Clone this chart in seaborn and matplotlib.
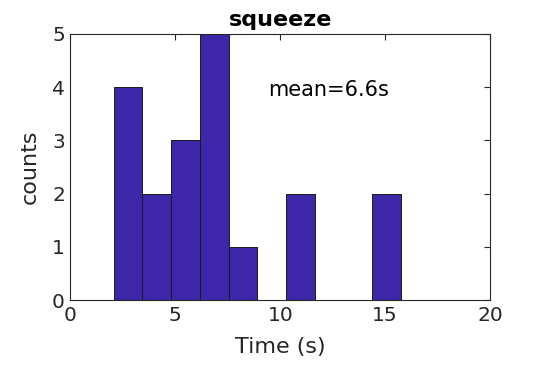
import numpy as np
import pandas as pd
import matplotlib
matplotlib.use("Agg")
import matplotlib.pyplot as plt
import seaborn as sns

# Histogram
bin_edges = [2.06, 3.43, 4.80, 6.17, 7.54, 8.91, 10.28, 11.65, 13.02, 14.39, 15.76]
counts = [4, 2, 3, 5, 1, 0, 2, 0, 0, 2]
mean_time = 6.6
title = "squeeze"
x_ticks = [0, 5, 10, 15, 20]
y_ticks = [0, 1, 2, 3, 4, 5]

centers = [(a + b) / 2 for a, b in zip(bin_edges[:-1], bin_edges[1:])]
df = pd.DataFrame({"time": centers, "count": counts})

sns.set_style("white")
plt.rcParams["font.family"] = ["DejaVu Sans"]

fig = plt.figure(figsize=(5.42, 3.65), dpi=100)
ax = fig.add_axes([0.130, 0.178, 0.774, 0.729])

sns.histplot(
    data=df,
    x="time",
    weights="count",
    bins=bin_edges,
    color="#3e26a8",
    edgecolor="#1a1a1a",
    linewidth=0.7,
    alpha=1,
    ax=ax,
)

ax.set_xlim(0, 20)
ax.set_ylim(0, 5)
ax.set_xticks(x_ticks)
ax.set_yticks(y_ticks)
ax.tick_params(direction="in", length=4, width=0.8, colors="#262626",
               labelsize=14.5, top=True, right=True, pad=4)
for side in ax.spines.values():
    side.set_color("#262626")
    side.set_linewidth(0.8)

ax.set_xlabel("Time (s)", fontsize=16, color="#262626", labelpad=9)
ax.set_ylabel("counts", fontsize=16, color="#262626", labelpad=9)
ax.set_title(title, fontsize=16, fontweight="bold", color="black", pad=6)
ax.text(9.4, 3.95, f"mean={mean_time}s", fontsize=15, color="black",
        va="center", ha="left")

fig.savefig("out.png", dpi=100)
